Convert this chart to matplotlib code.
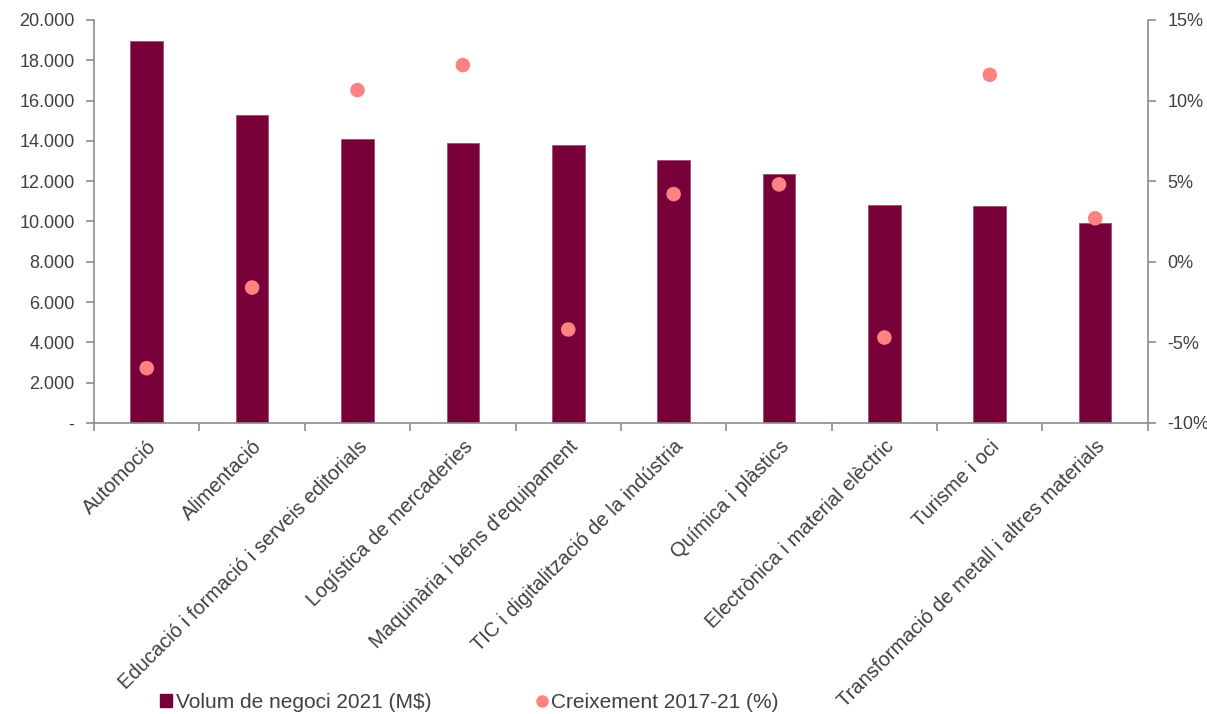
import matplotlib
matplotlib.use("Agg")
import matplotlib.pyplot as plt
from matplotlib.ticker import FuncFormatter, FixedLocator
from matplotlib.lines import Line2D
from matplotlib.patches import Patch

categories = ["Automoció", "Alimentació", "Educació i formació i serveis editorials",
              "Logística de mercaderies", "Maquinària i béns d'equipament",
              "TIC i digitalització de la indústria", "Química i plàstics",
              "Electrònica i material elèctric", "Turisme i oci",
              "Transformació de metall i altres materials"]
volum = [18960, 15290, 14090, 13900, 13800, 13050, 12360, 10820, 10780, 9930]
creix = [-6.6, -1.6, 10.65, 12.2, -4.2, 4.2, 4.8, -4.7, 11.6, 2.7]
legend_labels = ["Volum de negoci 2021 (M$)", "Creixement 2017-21 (%)"]

bar_color = "#780038"
dot_color = "#FF8282"
text_color = "#404040"
axis_color = "#8C8C8C"

plt.rcParams['font.family'] = ['Liberation Sans', 'DejaVu Sans']

fig = plt.figure(figsize=(12.07, 7.14), dpi=100)
ax = fig.add_axes([0.0779, 0.4076, 0.951 - 0.0779, 0.972 - 0.4076])
x = list(range(len(categories)))
ax.bar(x, volum, width=0.31, color=bar_color, edgecolor="#A05070", linewidth=0.6, zorder=2)
ax.set_xlim(-0.5, len(categories) - 0.5)
ax.set_ylim(0, 20000)
ax.set_yticks(range(0, 20001, 2000))
ax.yaxis.set_major_formatter(FuncFormatter(lambda v, p: "-" if v == 0 else f"{int(v):,}".replace(",", ".")))
ax.set_xticks(x)
ax.set_xticklabels(categories, rotation=45, ha="right", rotation_mode="anchor", fontsize=14.5, color=text_color)
ax.tick_params(axis="x", length=0, pad=10)
ax.xaxis.set_minor_locator(FixedLocator([i - 0.5 for i in range(len(categories) + 1)]))
ax.tick_params(axis="x", which="minor", length=6, color=axis_color, width=1.2)
ax.tick_params(axis="y", length=6, color=axis_color, labelsize=13, labelcolor=text_color, width=1.2, pad=8)
for s in ["top", "right"]:
    ax.spines[s].set_visible(False)
for s in ["left", "bottom"]:
    ax.spines[s].set_color(axis_color)
    ax.spines[s].set_linewidth(1.2)

ax2 = ax.twinx()
ax2.scatter(x, creix, s=110, color=dot_color, zorder=3, edgecolors="none")
ax2.set_ylim(-10, 15)
ax2.set_yticks(range(-10, 16, 5))
ax2.yaxis.set_major_formatter(FuncFormatter(lambda v, p: f"{int(v)}%"))
ax2.tick_params(axis="y", length=6, color=axis_color, labelsize=13, labelcolor=text_color, width=1.2, pad=8)
for s in ["top", "left", "bottom"]:
    ax2.spines[s].set_visible(False)
ax2.spines["right"].set_color(axis_color)
ax2.spines["right"].set_linewidth(1.2)

handles = [Patch(facecolor=bar_color, edgecolor=bar_color),
           Line2D([], [], marker="o", linestyle="none", markersize=8, markerfacecolor=dot_color, markeredgecolor=dot_color)]
leg = fig.legend(handles, legend_labels, loc="center left", bbox_to_anchor=(0.117, 0.016), ncol=2,
                 frameon=False, fontsize=15, handlelength=0.6, handleheight=0.6, handletextpad=0.15,
                 columnspacing=5.0, labelcolor=text_color)

fig.savefig("out.png", dpi=100)
